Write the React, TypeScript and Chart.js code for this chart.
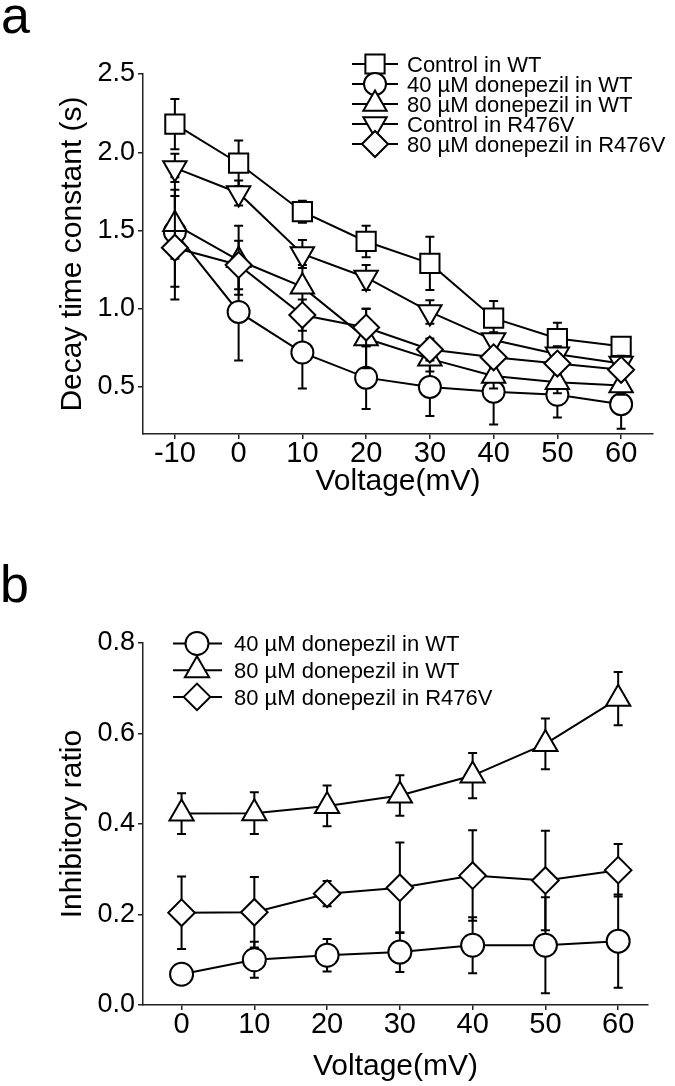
import React, { useEffect, useRef } from 'react';
import { Chart, registerables } from 'chart.js';
import { drawPoint } from 'chart.js/helpers';

Chart.register(...registerables);

// ---------- data ----------
const voltageA = [-10, 0, 10, 20, 30, 40, 50, 60];
const yTicksA = [0.5, 1.0, 1.5, 2.0, 2.5];
const labelsA = [
  'Control in WT',
  '40 \u00B5M donepezil in WT',
  '80 \u00B5M donepezil in WT',
  'Control in R476V',
  '80 \u00B5M donepezil in R476V',
];
const controlWT = [2.18, 1.93, 1.62, 1.43, 1.29, 0.94, 0.81, 0.76];
const controlWTErr = [0.16, 0.145, 0.07, 0.1, 0.17, 0.11, 0.1, 0.035];
const don40WT = [1.49, 0.98, 0.72, 0.56, 0.5, 0.47, 0.45, 0.39];
const don40WTErr = [0.35, 0.31, 0.23, 0.2, 0.185, 0.21, 0.145, 0.157];
const don80WT = [1.54, 1.31, 1.14, 0.81, 0.68, 0.57, 0.53, 0.51];
const don80WTErr = [0.22, 0.22, 0.14, 0.19, 0.08, 0.08, 0.07, 0.06];
const controlR476V = [1.9, 1.74, 1.35, 1.2, 0.98, 0.8, 0.71, 0.65];
const controlR476VErr = [0.09, 0.08, 0.09, 0.08, 0.075, 0.05, 0.05, 0.05];
const don80R476V = [1.39, 1.28, 0.96, 0.88, 0.74, 0.69, 0.65, 0.61];
const don80R476VErr = [0.33, 0.155, 0.1, 0.12, 0.07, 0.06, 0.06, 0.05];

const voltageB = [0, 10, 20, 30, 40, 50, 60];
const yTicksB = [0.0, 0.2, 0.4, 0.6, 0.8];
const labelsB = [
  '40 \u00B5M donepezil in WT',
  '80 \u00B5M donepezil in WT',
  '80 \u00B5M donepezil in R476V',
];
const inh40WT = [0.068, 0.1, 0.11, 0.117, 0.132, 0.132, 0.141];
const inh40WTErr = [0.012, 0.04, 0.036, 0.044, 0.062, 0.106, 0.103];
const inh80WT = [0.423, 0.424, 0.44, 0.463, 0.507, 0.577, 0.677];
const inh80WTErr = [0.045, 0.046, 0.045, 0.045, 0.05, 0.056, 0.059];
const inh80R476V = [0.204, 0.205, 0.246, 0.259, 0.286, 0.275, 0.298];
const inh80R476VErr = [0.08, 0.078, 0.028, 0.1, 0.1, 0.11, 0.058];

// ---------- styles ----------
const FONT = '"Liberation Sans", Arial, Helvetica, sans-serif';
const W = 675;
const HA = 540;
const HB = 546;

type Mk = { shape: string; rotation: number; radius: number };
const stylesA: Mk[] = [
  { shape: 'rect', rotation: 0, radius: 13.6 },
  { shape: 'circle', rotation: 0, radius: 11 },
  { shape: 'triangle', rotation: 0, radius: 13.5 },
  { shape: 'triangle', rotation: 180, radius: 13.5 },
  { shape: 'rectRot', rotation: 0, radius: 13 },
];
const stylesB: Mk[] = [
  { shape: 'circle', rotation: 0, radius: 11.5 },
  { shape: 'triangle', rotation: 0, radius: 14 },
  { shape: 'rectRot', rotation: 0, radius: 13.3 },
];

function makeDataset(label: string, xs: number[], ys: number[], errs: number[], st: Mk, order: number) {
  return {
    label,
    data: xs.map((x, i) => ({ x, y: ys[i] })),
    errors: errs,
    borderColor: '#000',
    borderWidth: 2,
    pointStyle: st.shape,
    pointRotation: st.rotation,
    pointRadius: st.radius,
    pointHoverRadius: st.radius,
    pointBackgroundColor: '#fff',
    pointBorderColor: '#000',
    pointBorderWidth: 2,
    tension: 0,
    fill: false,
    clip: false,
    order,
  };
}

const errorBarPlugin = {
  id: 'errbars',
  beforeDatasetDraw(chart: any, args: any) {
    const ds = chart.data.datasets[args.index];
    const errs: number[] | undefined = ds.errors;
    if (!errs) return;
    const { ctx } = chart;
    const x = chart.scales.x;
    const y = chart.scales.y;
    const cap = 4.5;
    ctx.save();
    ctx.strokeStyle = '#000';
    ctx.lineWidth = 2;
    ds.data.forEach((p: any, i: number) => {
      const px = x.getPixelForValue(p.x);
      const top = y.getPixelForValue(p.y + errs[i]);
      const bot = y.getPixelForValue(p.y - errs[i]);
      ctx.beginPath();
      ctx.moveTo(px, top);
      ctx.lineTo(px, bot);
      ctx.moveTo(px - cap, top);
      ctx.lineTo(px + cap, top);
      ctx.moveTo(px - cap, bot);
      ctx.lineTo(px + cap, bot);
      ctx.stroke();
    });
    ctx.restore();
  },
};

type LegendCfg = {
  items: { label: string; st: Mk }[];
  y0: number;
  dy: number;
  lineX0: number;
  lineX1: number;
  markerX: number;
  textX: number;
};

function decorPlugin(letter: string, lx: number, ly: number, lg: LegendCfg) {
  return {
    id: 'decor_' + letter,
    afterDraw(chart: any) {
      const ctx = chart.ctx;
      ctx.save();
      ctx.fillStyle = '#000';
      ctx.textAlign = 'left';
      ctx.textBaseline = 'alphabetic';
      ctx.font = `52px ${FONT}`;
      ctx.fillText(letter, lx, ly);
      ctx.font = `22px ${FONT}`;
      lg.items.forEach((it, i) => {
        const y = lg.y0 + i * lg.dy;
        ctx.strokeStyle = '#000';
        ctx.lineWidth = 2;
        ctx.beginPath();
        ctx.moveTo(lg.lineX0, y);
        ctx.lineTo(lg.lineX1, y);
        ctx.stroke();
        ctx.fillStyle = '#fff';
        drawPoint(ctx, { pointStyle: it.st.shape, rotation: it.st.rotation, radius: it.st.radius, borderWidth: 2 } as any, lg.markerX, y);
        ctx.fillStyle = '#000';
        ctx.fillText(it.label, lg.textX, y + 7.9);
      });
      ctx.restore();
    },
  };
}

function scalesCfg(o: {
  xmin: number; xmax: number; xticks: number[];
  ymin: number; ymax: number; yticks: number[];
  yTitle: string; yWidth: number; xHeight: number; xTitlePad: number;
}) {
  const grid = { drawOnChartArea: false, drawTicks: true, tickLength: 5, color: '#222', lineWidth: 1.5 };
  const border = { display: true, color: '#222', width: 1.5 };
  return {
    x: {
      type: 'linear',
      min: o.xmin,
      max: o.xmax,
      grid,
      border,
      afterBuildTicks: (s: any) => { s.ticks = o.xticks.map((v) => ({ value: v })); },
      afterFit: (s: any) => { s.height = o.xHeight; },
      ticks: {
        color: '#000',
        font: { family: FONT, size: 29, lineHeight: 1 },
        padding: 0,
        autoSkip: false,
        maxRotation: 0,
        callback: (v: any) => String(v),
      },
      title: {
        display: true,
        text: 'Voltage(mV)',
        color: '#000',
        font: { family: FONT, size: 30, lineHeight: 1.2 },
        padding: { top: 0, bottom: o.xTitlePad },
      },
    },
    y: {
      type: 'linear',
      min: o.ymin,
      max: o.ymax,
      grid,
      border,
      afterBuildTicks: (s: any) => { s.ticks = o.yticks.map((v) => ({ value: v })); },
      afterFit: (s: any) => { s.width = o.yWidth; },
      ticks: {
        color: '#000',
        font: { family: FONT, size: 27 },
        padding: 3,
        callback: (v: any) => Number(v).toFixed(1),
      },
      title: {
        display: true,
        text: o.yTitle,
        color: '#000',
        font: { family: FONT, size: 30, lineHeight: 1.2 },
        padding: { top: 55, bottom: 0 },
      },
    },
  };
}

export default function App() {
  const refA = useRef<HTMLCanvasElement | null>(null);
  const refB = useRef<HTMLCanvasElement | null>(null);

  useEffect(() => {
    const seriesA = [controlWT, don40WT, don80WT, controlR476V, don80R476V];
    const errsA = [controlWTErr, don40WTErr, don80WTErr, controlR476VErr, don80R476VErr];
    const seriesB = [inh40WT, inh80WT, inh80R476V];
    const errsB = [inh40WTErr, inh80WTErr, inh80R476VErr];

    const chartA = new Chart(refA.current as HTMLCanvasElement, {
      type: 'line',
      data: {
        datasets: seriesA.map((s, i) => makeDataset(labelsA[i], voltageA, s, errsA[i], stylesA[i], seriesA.length - i)) as any,
      },
      options: {
        responsive: false,
        animation: false,
        events: [],
        layout: { padding: { left: 0, right: W - 653, top: 74, bottom: 0 } },
        plugins: { legend: { display: false }, tooltip: { enabled: false } },
        scales: scalesCfg({
          xmin: -15, xmax: 65, xticks: voltageA,
          ymin: 0.2, ymax: 2.5, yticks: yTicksA,
          yTitle: 'Decay time constant (s)', yWidth: 143, xHeight: HA - 434, xTitlePad: 40,
        }) as any,
      },
      plugins: [
        errorBarPlugin,
        decorPlugin('a', 1, 33, {
          items: labelsA.map((l, i) => ({ label: l, st: stylesA[i] })),
          y0: 64, dy: 20, lineX0: 352, lineX1: 398, markerX: 375, textX: 407,
        }),
      ] as any,
    });

    const chartB = new Chart(refB.current as HTMLCanvasElement, {
      type: 'line',
      data: {
        datasets: seriesB.map((s, i) => makeDataset(labelsB[i], voltageB, s, errsB[i], stylesB[i], seriesB.length - i)) as any,
      },
      options: {
        responsive: false,
        animation: false,
        events: [],
        layout: { padding: { left: 0, right: W - 648, top: 103, bottom: 0 } },
        plugins: { legend: { display: false }, tooltip: { enabled: false } },
        scales: scalesCfg({
          xmin: -5.3, xmax: 64.1, xticks: voltageB,
          ymin: 0, ymax: 0.8, yticks: yTicksB,
          yTitle: 'Inhibitory ratio', yWidth: 143, xHeight: HB - 465, xTitlePad: 1,
        }) as any,
      },
      plugins: [
        errorBarPlugin,
        decorPlugin('b', 0, 61.7, {
          items: labelsB.map((l, i) => ({ label: l, st: stylesB[i] })),
          y0: 103.5, dy: 26.7, lineX0: 173, lineX1: 222, markerX: 197, textX: 234,
        }),
      ] as any,
    });

    return () => {
      chartA.destroy();
      chartB.destroy();
    };
  }, []);

  return (
    <div style={{ position: 'absolute', left: 0, top: 0, width: W, height: HA + HB, background: '#fff' }}>
      <canvas ref={refA} width={W} height={HA} style={{ position: 'absolute', left: 0, top: 0, width: W, height: HA }} />
      <canvas ref={refB} width={W} height={HB} style={{ position: 'absolute', left: 0, top: HA, width: W, height: HB }} />
    </div>
  );
}
